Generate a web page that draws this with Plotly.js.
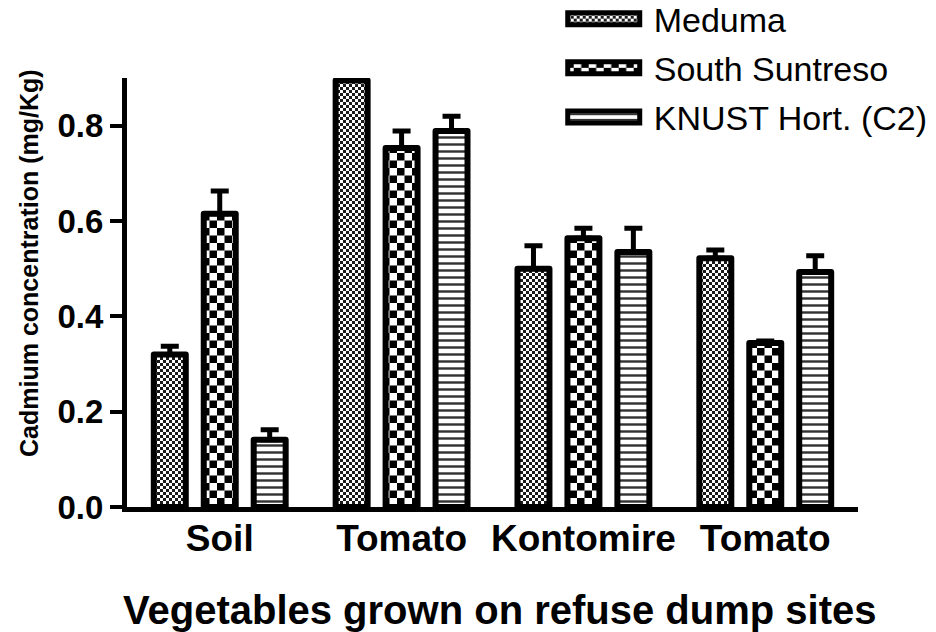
<!DOCTYPE html>
<html><head><meta charset="utf-8">
<script src="https://cdn.plot.ly/plotly-3.0.1.min.js"></script>
<style>html,body{margin:0;padding:0;background:#fff}#chart{width:936px;height:632px}</style>
</head><body><div id="chart"></div>
<script>
const categories = ["Soil", "Tomato", "Kontomire", "Tomato"];
const seriesNames = ["Meduma", "South Suntreso", "KNUST Hort. (C2)"];
const meduma = [0.32, 0.895, 0.50, 0.522];
const medumaErr = [0.017, 0.004, 0.048, 0.017];
const suntreso = [0.615, 0.753, 0.564, 0.344];
const suntresoErr = [0.048, 0.036, 0.021, 0.004];
const knust = [0.141, 0.789, 0.535, 0.493];
const knustErr = [0.021, 0.031, 0.05, 0.034];
const yTickVals = [0, 0.2, 0.4, 0.6, 0.8];
const yTickText = ["0.0", "0.2", "0.4", "0.6", "0.8"];

const xIdx = categories.map((c, i) => i);
const zeros = categories.map(() => 0);
const FONT = "'Liberation Sans', Arial, sans-serif";

function barTrace(name, vals, errs, pattern, group) {
  return {
    type: 'bar', name: name, x: xIdx, y: vals, legendgroup: group,
    marker: { color: '#fff', line: { color: '#000', width: 6 }, pattern: pattern },
    error_y: { type: 'data', symmetric: false, array: errs, arrayminus: zeros,
               color: '#000', thickness: 5, width: 9 },
    hoverinfo: 'skip'
  };
}

const data = [
  barTrace(seriesNames[0], meduma, medumaErr, { shape: '+', size: 6, solidity: 0.5, fgcolor: '#222', bgcolor: '#fff' }, 'a'),
  barTrace(seriesNames[1], suntreso, suntresoErr, { shape: '+', size: 14, solidity: 0.5, fgcolor: '#000', bgcolor: '#fff' }, 'b'),
  barTrace(seriesNames[2], knust, knustErr, { shape: '-', size: 7, solidity: 0.35, fgcolor: '#333', bgcolor: '#fff' }, 'c')
];

const layout = {
  width: 936, height: 632,
  margin: { l: 127, r: 78, t: 78, b: 125, autoexpand: false },
  paper_bgcolor: '#fff', plot_bgcolor: '#fff',
  barmode: 'group', bargap: 0.176, bargroupgap: 0.36,
  showlegend: true,
  legend: { xref: 'container', yref: 'paper', x: 0.598, y: 1.205, xanchor: 'left', yanchor: 'top',
            font: { family: FONT, size: 34, color: '#000' }, bgcolor: 'rgba(0,0,0,0)',
            itemwidth: 84, traceorder: 'grouped', tracegroupgap: 2 },
  xaxis: { range: [-0.51, 3.51], tickmode: 'array', tickvals: xIdx, ticktext: categories, tickangle: 0,
           showline: true, linewidth: 5, linecolor: '#000', ticks: '', showgrid: false, zeroline: false,
           ticklabelstandoff: -5,
           tickfont: { family: FONT, size: 37, color: '#000', weight: 'bold' } },
  yaxis: { range: [0, 0.9], tickmode: 'array', tickvals: yTickVals, ticktext: yTickText,
           showline: true, linewidth: 5, linecolor: '#000', ticks: 'outside', ticklen: 12, tickwidth: 4,
           tickcolor: '#000', showgrid: false, zeroline: false,
           tickfont: { family: FONT, size: 33, color: '#000', weight: 'bold' } },
  annotations: [
    { text: 'Cadmium concentration (mg/Kg)', xref: 'paper', yref: 'paper', x: -0.134, y: 0.569,
      textangle: -90, showarrow: false, xanchor: 'center', yanchor: 'middle',
      font: { family: FONT, size: 25, color: '#000', weight: 'bold' } },
    { text: 'Vegetables grown on refuse dump sites', xref: 'paper', yref: 'paper', x: 0.51, y: -0.24,
      showarrow: false, xanchor: 'center', yanchor: 'middle',
      font: { family: FONT, size: 40, color: '#000', weight: 'bold' } }
  ]
};

const gd = document.getElementById('chart');
Plotly.newPlot(gd, data, layout, { staticPlot: true }).then(function () {
  const NS = 'http://www.w3.org/2000/svg';
  const svg = gd.querySelector('svg.main-svg');
  let defs = svg.querySelector('defs');
  if (!defs) { defs = document.createElementNS(NS, 'defs'); svg.insertBefore(defs, svg.firstChild); }
  function checker(id, cell, color) {
    const p = document.createElementNS(NS, 'pattern');
    p.setAttribute('id', id); p.setAttribute('patternUnits', 'userSpaceOnUse');
    p.setAttribute('width', 2 * cell); p.setAttribute('height', 2 * cell);
    const bg = document.createElementNS(NS, 'rect');
    bg.setAttribute('width', 2 * cell); bg.setAttribute('height', 2 * cell); bg.setAttribute('fill', '#fff');
    p.appendChild(bg);
    [[0, 0], [cell, cell]].forEach(function (c) {
      const r = document.createElementNS(NS, 'rect');
      r.setAttribute('x', c[0]); r.setAttribute('y', c[1]);
      r.setAttribute('width', cell); r.setAttribute('height', cell); r.setAttribute('fill', color);
      p.appendChild(r);
    });
    defs.appendChild(p);
  }
  checker('chkFine', 3, '#1a1a1a');
  checker('chkCoarse', 7.5, '#000');
  const fills = ['url(#chkFine)', 'url(#chkCoarse)', null];
  gd.querySelectorAll('.barlayer .trace').forEach(function (t, i) {
    t.querySelectorAll('.point path').forEach(function (p) {
      if (fills[i]) p.style.fill = fills[i];
      p.style.strokeLinejoin = 'round';
    });
  });
  gd.querySelectorAll('.legend .traces').forEach(function (t, i) {
    t.querySelectorAll('.legendpoints path').forEach(function (p) {
      p.setAttribute('d', 'M36,6H-36V-6H36Z');
      p.setAttribute('transform', 'translate(44,0)');
      p.style.strokeWidth = '5px';
      if (fills[i]) p.style.fill = fills[i];
    });
  });
});
</script>
</body></html>
